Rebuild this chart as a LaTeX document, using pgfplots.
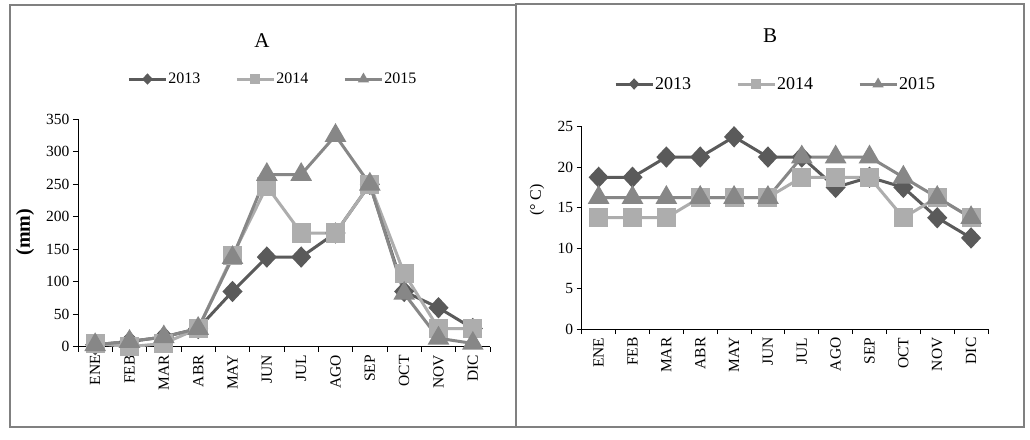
\documentclass[border=0pt]{standalone}
\usepackage{fontspec}
\setmainfont{Liberation Serif}
\usepackage{pgfplots}
\pgfplotsset{compat=1.18}
\definecolor{c13}{HTML}{5A5A5A}
\definecolor{c14}{HTML}{ADADAD}
\definecolor{c15}{HTML}{878787}
\definecolor{frm}{HTML}{808080}
\pgfplotsset{
  mybase/.style={
    scale only axis,
    axis lines*=left,
    axis line style={-, black, line width=0.8pt},
    xmin=-0.5, xmax=11.5,
    xtick={-0.5,0.5,...,11.5},
    xticklabels={},
    extra x ticks={0,1,2,3,4,5,6,7,8,9,10,11},
    extra x tick labels={ENE,FEB,MAR,ABR,MAY,JUN,JUL,AGO,SEP,OCT,NOV,DIC},
    extra x tick style={tick style={draw=none}, tick label style={rotate=90, anchor=east}},
    tick align=outside,
    major tick length=5pt,
    tick style={black, line width=0.8pt},
    tick label style={font=\fontsize{15.5}{16}\selectfont},
    /pgf/number format/assume math mode=true,
    legend columns=3,
    legend style={draw=none, fill=none, inner sep=0pt, nodes={inner sep=1pt}},
    legend image code/.code={
      \draw[##1, mark size=3.5pt, mark repeat=2, mark phase=2] plot coordinates {(0pt,0pt) (18.5pt,0pt) (37pt,0pt)};
    },
    cycle list={
      {c13, line width=3pt, mark=diamond*, mark size=8.5pt, mark options={solid, xscale=1.25}},
      {c14, line width=3pt, mark=square*, mark size=8pt, mark options={solid}},
      {c15, line width=3pt, mark=triangle*, mark size=9.5pt, mark options={solid}}
    },
  }
}
\begin{document}
\begin{tikzpicture}[x=1pt,y=1pt]
\fill[white] (0,0) rectangle (1030,439);
\draw[frm, line width=2pt] (10,12) rectangle (516,433.5);
\draw[frm, line width=2pt] (516,12) rectangle (1024,435);
\node[font=\fontsize{21}{22}\selectfont] at (262,398) {A};
\node[font=\fontsize{21}{22}\selectfont] at (770,403) {B};

\begin{axis}[mybase,
  at={(78pt,92.3pt)}, anchor=south west,
  width=412pt, height=227.4pt,
  ymin=0, ymax=350, ytick={0,50,...,350},
  ylabel={\textbf{(mm)}},
  ylabel style={at={(axis description cs:-0.1286,0.504)}, anchor=center, font=\fontsize{20}{21}\selectfont},
  legend style={at={(axis description cs:0.472,1.177)}, anchor=center, font=\fontsize{16}{17}\selectfont,
      /tikz/every even column/.append style={column sep=34pt}},
]
\addplot coordinates {(0,3) (1,8) (2,15) (3,28) (4,85) (5,138) (6,138) (7,175) (8,250) (9,85) (10,60) (11,28)};
\addplot coordinates {(0,5) (1,0) (2,5) (3,28) (4,140) (5,247) (6,175) (7,175) (8,250) (9,113) (10,28) (11,28)};
\addplot coordinates {(0,3) (1,8) (2,15) (3,28) (4,137) (5,265) (6,265) (7,325) (8,250) (9,82) (10,13) (11,5)};
\legend{2013,2014,2015}
\end{axis}

\begin{axis}[mybase,
  at={(581.7pt,110pt)}, anchor=south west,
  width=406.3pt, height=202.3pt,
  ymin=0, ymax=25, ytick={0,5,...,25},
  ylabel={(° C)},
  ylabel style={at={(axis description cs:-0.110,0.638)}, anchor=center, font=\fontsize{16}{17}\selectfont},
  legend style={at={(axis description cs:0.476,1.211)}, anchor=center, font=\fontsize{18}{19}\selectfont,
      /tikz/every even column/.append style={column sep=44pt}},
]
\addplot coordinates {(0,18.75) (1,18.75) (2,21.25) (3,21.25) (4,23.75) (5,21.25) (6,21.25) (7,17.5) (8,18.75) (9,17.5) (10,13.75) (11,11.25)};
\addplot coordinates {(0,13.75) (1,13.75) (2,13.75) (3,16.25) (4,16.25) (5,16.25) (6,18.75) (7,18.75) (8,18.75) (9,13.75) (10,16.25) (11,13.75)};
\addplot coordinates {(0,16.25) (1,16.25) (2,16.25) (3,16.25) (4,16.25) (5,16.25) (6,21.25) (7,21.25) (8,21.25) (9,18.75) (10,16.25) (11,13.75)};
\legend{2013,2014,2015}
\end{axis}
\end{tikzpicture}
\end{document}
